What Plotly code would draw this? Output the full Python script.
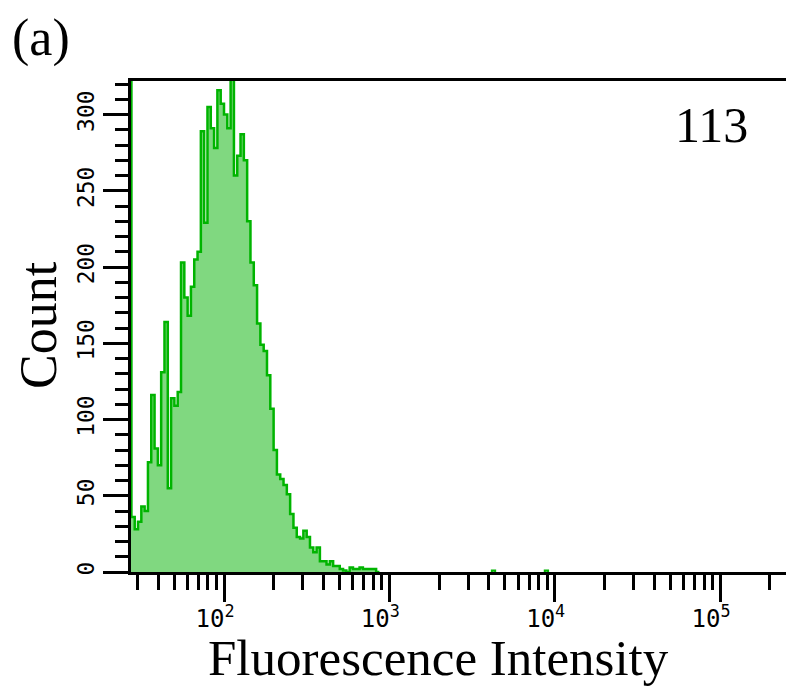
import numpy as np
import plotly.graph_objects as go

# Histogram channels: log10 of the lower edge of channel 0 and channel width (decades)
log_first_edge = 1.42
log_channel_width = 0.02

# Events per channel (channel 0 is an off-scale pile-up at the low end)
counts = [
    400,
    36, 28, 33, 43, 40, 72, 116, 81, 70, 131,
    164, 55, 114, 109, 118, 203, 180, 168, 187, 205,
    210, 289, 229, 305, 291, 278, 316, 307, 300, 291,
    323, 260, 273, 287, 270, 230, 203, 188, 163, 149,
    145, 129, 107, 80, 64, 61, 57, 51, 38, 29,
    23, 22, 27, 23, 16, 13, 16, 7, 7, 5,
    7, 4, 4, 2, 1, 0, 3, 2, 2, 3,
    2, 2, 2, 2, 0,
]

# Isolated events far above the main population
sparse_channels = [110, 126]
sparse_counts = [1, 1]

# Axis ticks
major_ticks = [1e2, 1e3, 1e4, 1e5]
major_text = ["10<sup>2</sup>", "10<sup>3</sup>", "10<sup>4</sup>", "10<sup>5</sup>"]
minor_ticks = ([m * 10 for m in range(3, 10)] + [m * 100 for m in range(2, 10)]
               + [m * 1000 for m in range(2, 10)] + [m * 10000 for m in range(2, 10)]
               + [200000])

median_label = "113"

line_green = "#00b400"
fill_green = "#80d880"

edges = 10 ** (log_first_edge + log_channel_width * np.arange(len(counts) + 1))
step_x = list(edges)
step_y = list(counts) + [counts[-1]]

fig = go.Figure()
fig.add_trace(go.Scatter(
    x=step_x, y=step_y, mode="lines", line=dict(color=line_green, width=2.5, shape="hv"),
    fill="tozeroy", fillcolor=fill_green, hoverinfo="skip", showlegend=False,
))

for ch, c in zip(sparse_channels, sparse_counts):
    lo = 10 ** (log_first_edge + log_channel_width * ch)
    hi = 10 ** (log_first_edge + log_channel_width * (ch + 1))
    fig.add_trace(go.Scatter(
        x=[lo, lo, hi, hi], y=[0, c, c, 0], mode="lines",
        line=dict(color=line_green, width=2), fill="toself", fillcolor=fill_green,
        hoverinfo="skip", showlegend=False,
    ))

serif = "Liberation Serif"

fig.update_layout(
    width=786, height=688,
    margin=dict(l=131, r=0, t=81, b=116),
    paper_bgcolor="white", plot_bgcolor="white",
    xaxis=dict(
        type="log", range=[1.4375, 5.399],
        showgrid=False, zeroline=False,
        showline=True, linecolor="black", linewidth=3, mirror=True,
        ticks="outside", ticklen=27, tickwidth=3, tickcolor="black",
        tickvals=major_ticks, ticktext=major_text,
        tickfont=dict(family="DejaVu Sans Mono", size=24, color="black"),
        ticklabelshift=-9, ticklabelstandoff=-4,
        minor=dict(tickvals=minor_ticks, ticks="outside", ticklen=15,
                   tickwidth=3, tickcolor="black"),
    ),
    yaxis=dict(
        range=[0, 322],
        showgrid=False, zeroline=False,
        showline=True, linecolor="black", linewidth=3,
        ticks="outside", ticklen=25, tickwidth=3, tickcolor="black",
        tickmode="linear", tick0=0, dtick=50,
        tickangle=-90, tickfont=dict(family="DejaVu Sans Mono", size=23, color="black"),
        minor=dict(ticks="outside", dtick=10, ticklen=13, tickwidth=3,
                   tickcolor="black"),
    ),
    annotations=[
        dict(text="Count", xref="paper", yref="paper", x=-0.142, y=0.503,
             textangle=-90, showarrow=False, xanchor="center", yanchor="middle",
             font=dict(family=serif, size=52, color="black")),
        dict(text="Fluorescence Intensity", xref="paper", yref="paper",
             x=0.470, y=-0.2363, showarrow=False, xanchor="center", yanchor="bottom",
             font=dict(family=serif, size=51, color="black")),
        dict(text="(a)", xref="paper", yref="paper", x=-0.137, y=1.0876,
             showarrow=False, xanchor="center", yanchor="middle",
             font=dict(family=serif, size=52, color="black")),
        dict(text=median_label, xref="paper", yref="paper", x=0.887, y=0.910,
             showarrow=False, xanchor="center", yanchor="middle",
             font=dict(family=serif, size=50, color="black")),
    ],
)

fig.write_html("out.html")
